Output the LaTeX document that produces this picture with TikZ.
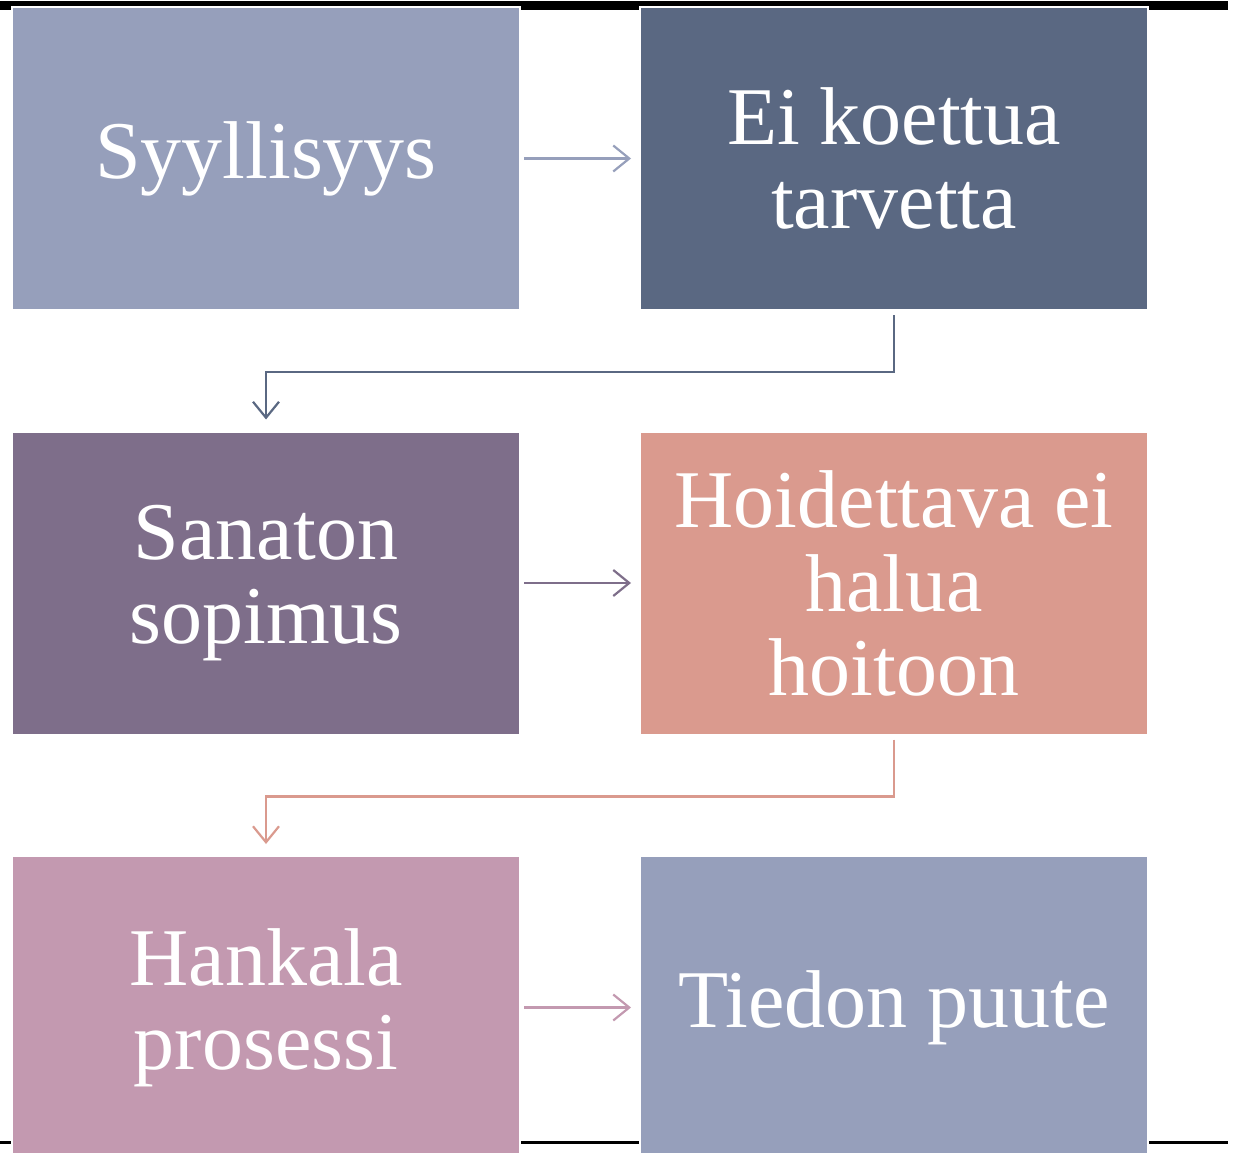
\documentclass[tikz,border=0pt]{standalone}
\usepackage{fontspec}
\setmainfont{Liberation Serif}
\usetikzlibrary{arrows.meta}
\definecolor{cA}{RGB}{150,159,187}
\definecolor{cB}{RGB}{90,104,130}
\definecolor{cC}{RGB}{126,110,138}
\definecolor{cD}{RGB}{218,154,142}
\definecolor{cE}{RGB}{195,153,176}
\newcommand{\myboxfont}{\fontsize{82}{84}\selectfont\spaceskip=0.24em\relax}
\tikzset{
  box/.style={draw=white, line width=2pt, minimum width=508pt, minimum height=303pt,
    align=center, text=white, inner sep=0pt,
    font=\myboxfont},
  conn/.style={line width=2.2pt, -{Straight Barb[length=16pt, width=26pt, line width=2.2pt]}}
}
\begin{document}
\begin{tikzpicture}[x=1pt,y=-1pt]
\useasboundingbox (0,0) rectangle (1235,1153);
\fill[black] (0,1) rectangle (1228,10);
\fill[black] (0,1141) rectangle (1228,1144);
\node[box, fill=cA] (a) at (266,158.5) {Syyllisyys};
\node[box, fill=cB] (b) at (894,158.5) {Ei koettua\\tarvetta};
\node[box, fill=cC] (c) at (266,583) {Sanaton\\sopimus};
\node[box, fill=cD] (d) at (894,583) {Hoidettava ei\\halua\\hoitoon};
\node[box, fill=cE] (e) at (266,1007.5) {Hankala\\prosessi};
\node[box, fill=cA] (f) at (894,1007.5) {Tiedon puute};
\draw[conn, draw=cA] ([xshift=3pt]a.east) -- ([xshift=-8pt]b.west);
\draw[conn, draw=cC] ([xshift=3pt]c.east) -- ([xshift=-8pt]d.west);
\draw[conn, draw=cE] ([xshift=3pt]e.east) -- ([xshift=-8pt]f.west);
\draw[conn, draw=cB] ([yshift=-4pt]b.south) -- ++(0,57) -| ([yshift=11pt]c.north);
\draw[conn, draw=cD] ([yshift=-4pt]d.south) -- ++(0,57) -| ([yshift=11pt]e.north);
\end{tikzpicture}
\end{document}
